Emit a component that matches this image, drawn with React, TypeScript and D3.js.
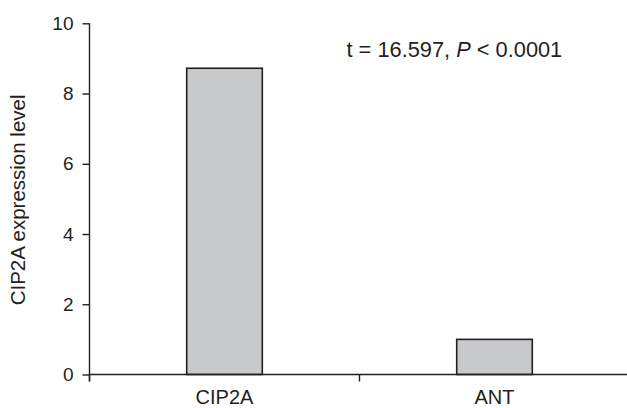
import React, { useRef, useEffect } from 'react';
import * as d3 from 'd3';

const categories = ['CIP2A', 'ANT'];
const values = [8.72, 1.0];
const yTicks = [0, 2, 4, 6, 8, 10];
const yLabel = 'CIP2A expression level';
const statText = { t: 't = 16.597, ', p: 'P', rest: ' < 0.0001' };

const W = 627;
const H = 408;
const INK = '#231f20';

const App = () => {
  const ref = useRef<SVGSVGElement>(null);

  useEffect(() => {
    if (!ref.current) return;
    const svg = d3.select(ref.current);
    svg.selectAll('*').remove();

    const margin = { top: 23.3, left: 89.5, bottom: 374.5 };

    const y = d3.scaleLinear().domain([0, 10]).range([margin.bottom, margin.top]);
    const x = d3
      .scaleBand()
      .domain(categories)
      .range([margin.left, margin.left + 540])
      .paddingInner(0.72)
      .paddingOuter(0.36);

    const font = '"Liberation Sans", Arial, sans-serif';

    // bars
    svg
      .append('g')
      .selectAll('rect')
      .data(values)
      .enter()
      .append('rect')
      .attr('x', (d, i) => x(categories[i]) as number)
      .attr('y', (d) => y(d))
      .attr('width', x.bandwidth())
      .attr('height', (d) => y(0) - y(d))
      .attr('fill', '#c8c9cb')
      .attr('stroke', INK)
      .attr('stroke-width', 1.6);

    // y axis
    const yAxis = d3
      .axisLeft(y)
      .tickValues(yTicks)
      .tickSize(7)
      .tickPadding(9)
      .tickFormat(d3.format('d'));
    const yg = svg
      .append('g')
      .attr('transform', `translate(${margin.left},0)`)
      .call(yAxis);
    yg.select('.domain').remove();
    yg.append('line')
      .attr('x1', 0)
      .attr('x2', 0)
      .attr('y1', margin.top)
      .attr('y2', margin.bottom + 7)
      .attr('stroke', INK)
      .attr('stroke-width', 1.4);
    yg.selectAll('.tick line').attr('stroke', INK).attr('stroke-width', 1.4);
    yg.selectAll('.tick text')
      .attr('fill', INK)
      .style('font-family', font)
      .style('font-size', '19px');

    // x axis: line plus ticks at band boundaries
    const bounds = [margin.left, margin.left + x.step(), margin.left + 2 * x.step()];
    const xg = svg.append('g');
    xg.append('line')
      .attr('x1', margin.left)
      .attr('x2', W)
      .attr('y1', margin.bottom)
      .attr('y2', margin.bottom)
      .attr('stroke', INK)
      .attr('stroke-width', 1.6);
    xg.selectAll('line.tk')
      .data(bounds)
      .enter()
      .append('line')
      .attr('class', 'tk')
      .attr('x1', (d) => d)
      .attr('x2', (d) => d)
      .attr('y1', margin.bottom)
      .attr('y2', margin.bottom + 7)
      .attr('stroke', INK)
      .attr('stroke-width', 1.4);
    xg.selectAll('text')
      .data(categories)
      .enter()
      .append('text')
      .attr('x', (d) => (x(d) as number) + x.bandwidth() / 2)
      .attr('y', 404)
      .attr('text-anchor', 'middle')
      .attr('fill', INK)
      .style('font-family', font)
      .style('font-size', '20px')
      .text((d) => d);

    // y label
    svg
      .append('text')
      .attr('transform', `translate(25,${(margin.top + margin.bottom) / 2 + 1}) rotate(-90)`)
      .attr('text-anchor', 'middle')
      .attr('fill', INK)
      .style('font-family', font)
      .style('font-size', '20.5px')
      .text(yLabel);

    // stat annotation
    const st = svg
      .append('text')
      .attr('x', 346.5)
      .attr('y', 56.5)
      .attr('fill', INK)
      .style('font-family', font)
      .style('font-size', '21.8px');
    st.append('tspan').text(statText.t);
    st.append('tspan').style('font-style', 'italic').text(statText.p);
    st.append('tspan').text(statText.rest);
  }, []);

  return (
    <svg
      ref={ref}
      width={W}
      height={H}
      style={{ position: 'absolute', left: 0, top: 0, background: '#fff' }}
    />
  );
};

export default App;
